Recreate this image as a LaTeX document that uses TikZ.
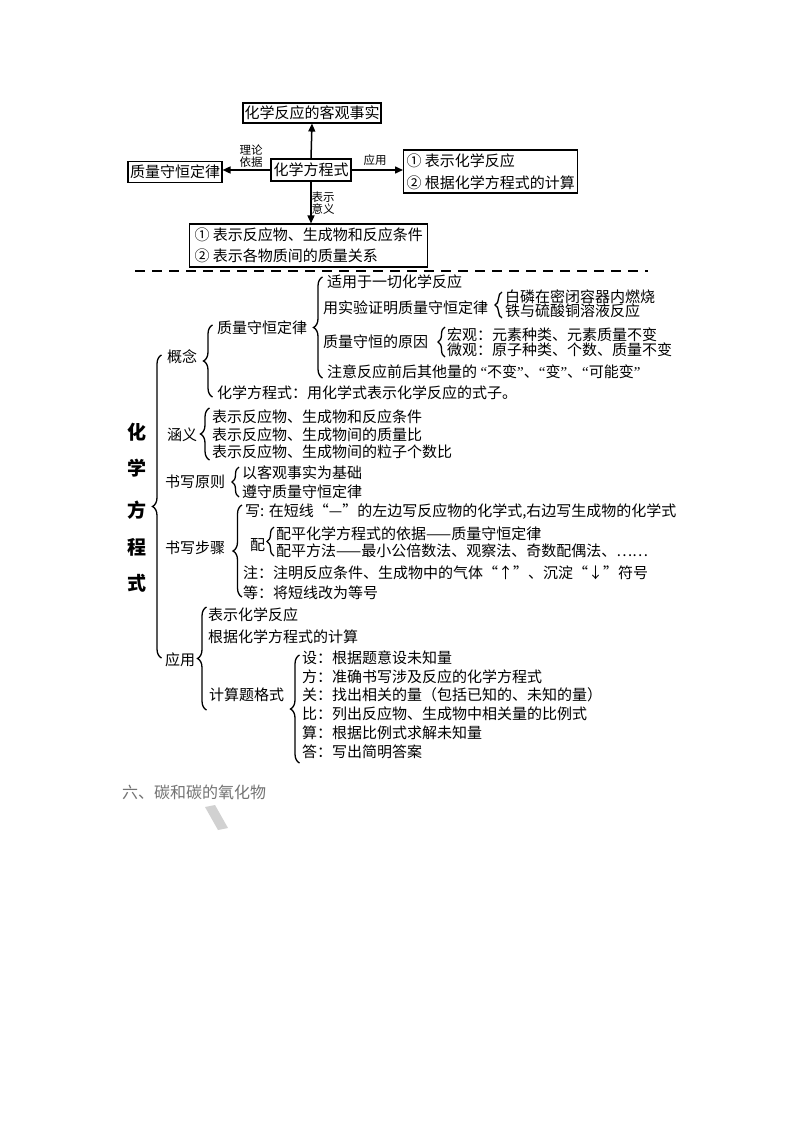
\documentclass[tikz,border=0pt]{standalone}
\usepackage{fontspec}
\newfontfamily\cjk{Noto Sans CJK SC}
\newfontfamily\lat{Liberation Serif}
\usetikzlibrary{arrows.meta,decorations.pathreplacing}
\tikzset{
  txt/.style={anchor=west,inner sep=0pt,font=\cjk\fontsize{15}{15}\selectfont},
  box/.style={draw,line width=1.1pt,inner sep=0pt,font=\cjk\fontsize{15}{15}\selectfont},
  tag/.style={inner sep=0pt,align=center,font=\cjk\fontsize{11.5}{12}\selectfont},
  link/.style={line width=1.5pt,-{Triangle[length=8pt,width=7pt]}},
  brc/.style={decorate,decoration={brace,mirror,amplitude=9pt},line width=1.3pt},
}
\newcommand{\curly}[4][9pt]{%
  \draw[brc,decoration={amplitude=#1}] (#2,#3) -- (#2,#4);}
\newcommand{\oq}{{\lat “}}
\newcommand{\cq}{{\lat ”}}

\begin{document}
\begin{tikzpicture}[x=1pt,y=-1pt]
  \fill[white] (0,0) rectangle (800,1132);
  \useasboundingbox (0,0) rectangle (800,1132);
  % draw top map
  \node[box,minimum width=80pt,minimum height=22pt] (eqn) at (311,170) {化学方程式};
  \node[box,minimum width=138pt,minimum height=20pt] (fact) at (312,113) {化学反应的客观事实};
  \node[box,minimum width=94pt,minimum height=21pt] (law) at (175,172) {质量守恒定律};
  \node[box,anchor=west,minimum height=43pt,inner xsep=3pt,align=left,font=\cjk\fontsize{15}{22}\selectfont] (use) at (403,171.5) {① 表示化学反应\\② 根据化学方程式的计算};
  \node[box,anchor=west,minimum height=43pt,inner xsep=5pt,align=left,font=\cjk\fontsize{15}{21}\selectfont] (mean) at (189,245.5) {① 表示反应物、生成物和反应条件\\② 表示各物质间的质量关系};
  \draw[link] (eqn.north) -- (fact.south);
  \draw[link] (eqn.west) -- (eqn.west -| law.east);
  \draw[link] (eqn.east) -- (eqn.east -| use.west);
  \draw[link] (eqn.south) -- (eqn.south |- mean.north);
  \node[tag] (basis) at (251,156) {理论\\依据};
  \node[tag] (applab) at (375,160) {应用};
  \node[tag] (meanlab) at (323,203) {表示\\意义};
  % draw cut line
  \coordinate (cutL) at (135,271);
  \coordinate (cutR) at (648,271);
  \draw[line width=2.4pt,dash pattern=on 10pt off 7pt] (cutL) -- (cutR);
  % draw title column
  \foreach \c/\y in {化/432,学/468,方/510,程/547,式/583} {
    \node[inner sep=0pt,font=\cjk\bfseries\fontsize{19}{19}\selectfont] (title\y) at (137,\y) {\c};
  }
  % draw braces
  \curly{161.5}{355}{658}
  \curly{212.5}{325}{397}
  \curly{322.5}{277}{378}
  \curly[7pt]{502}{292}{318}
  \curly[7pt]{445}{327}{357}
  \curly{209.5}{408}{460}
  \curly[7pt]{239}{467}{497}
  \curly{242}{505}{597}
  \curly[7pt]{274}{527}{556}
  \curly{206.5}{607}{710}
  \curly{299.5}{655}{763}
  % concept branch
  \node[txt] (concept) at (167,357) {概念};
  \node[txt] (lawtxt) at (217,328) {质量守恒定律};
  \node[txt] (allrx) at (327,282) {适用于一切化学反应};
  \node[txt] (proof) at (323,308) {用实验证明质量守恒定律};
  \node[txt] (phos) at (505,297) {白磷在密闭容器内燃烧};
  \node[txt] (iron) at (505,311) {铁与硫酸铜溶液反应};
  \node[txt] (cause) at (323,342) {质量守恒的原因};
  \node[txt] (macro) at (447,335) {宏观：元素种类、元素质量不变};
  \node[txt] (micro) at (447,350) {微观：原子种类、个数、质量不变};
  \node[txt] (note) at (327,372) {注意反应前后其他量的 \oq 不变\cq 、\oq 变\cq 、\oq 可能变\cq};
  \node[txt] (define) at (217,393) {化学方程式：用化学式表示化学反应的式子。};
  % meaning branch
  \node[txt] (sense) at (167,435) {涵义};
  \foreach \y/\t in {417/{表示反应物、生成物和反应条件},435/{表示反应物、生成物间的质量比},452/{表示反应物、生成物间的粒子个数比}} {
    \node[txt] (sense\y) at (212,\y) {\t};
  }
  % writing rules
  \node[txt] (rules) at (165,482) {书写原则};
  \node[txt] (truth) at (242,473) {以客观事实为基础};
  \node[txt] (obey) at (242,492) {遵守质量守恒定律};
  % writing steps
  \node[txt] (steps) at (165,548) {书写步骤};
  \node[txt] (write) at (245,512) {写: 在短线“—”的左边写反应物的化学式,右边写生成物的化学式};
  \node[txt] (match) at (250,545) {配};
  \node[txt] (basis2) at (276,534) {配平化学方程式的依据——质量守恒定律};
  \node[txt] (method) at (276,551) {配平方法——最小公倍数法、观察法、奇数配偶法、……};
  \node[txt] (mark) at (243,573) {注：注明反应条件、生成物中的气体“↑”、沉淀“↓”符号};
  \node[txt] (equal) at (243,593) {等：将短线改为等号};
  % application branch
  \node[txt] (apply) at (165,660) {应用};
  \node[txt] (show) at (208,615) {表示化学反应};
  \node[txt] (calc) at (208,637) {根据化学方程式的计算};
  \node[txt] (form) at (209,695) {计算题格式};
  \foreach \y/\t in {658/{设：根据题意设未知量},677/{方：准确书写涉及反应的化学方程式},695/{关：找出相关的量（包括已知的、未知的量）},714/{比：列出反应物、生成物中相关量的比例式},733/{算：根据比例式求解未知量},752/{答：写出简明答案}} {
    \node[txt] (form\y) at (302,\y) {\t};
  }
  % footer
  \node[txt,text=black!55,font=\cjk\fontsize{16}{16}\selectfont] (next) at (122,792) {六、碳和碳的氧化物};
  \fill[black!18] (205,807) -- (215,805) -- (228,828) -- (218,830) -- cycle;
\end{tikzpicture}
\end{document}
